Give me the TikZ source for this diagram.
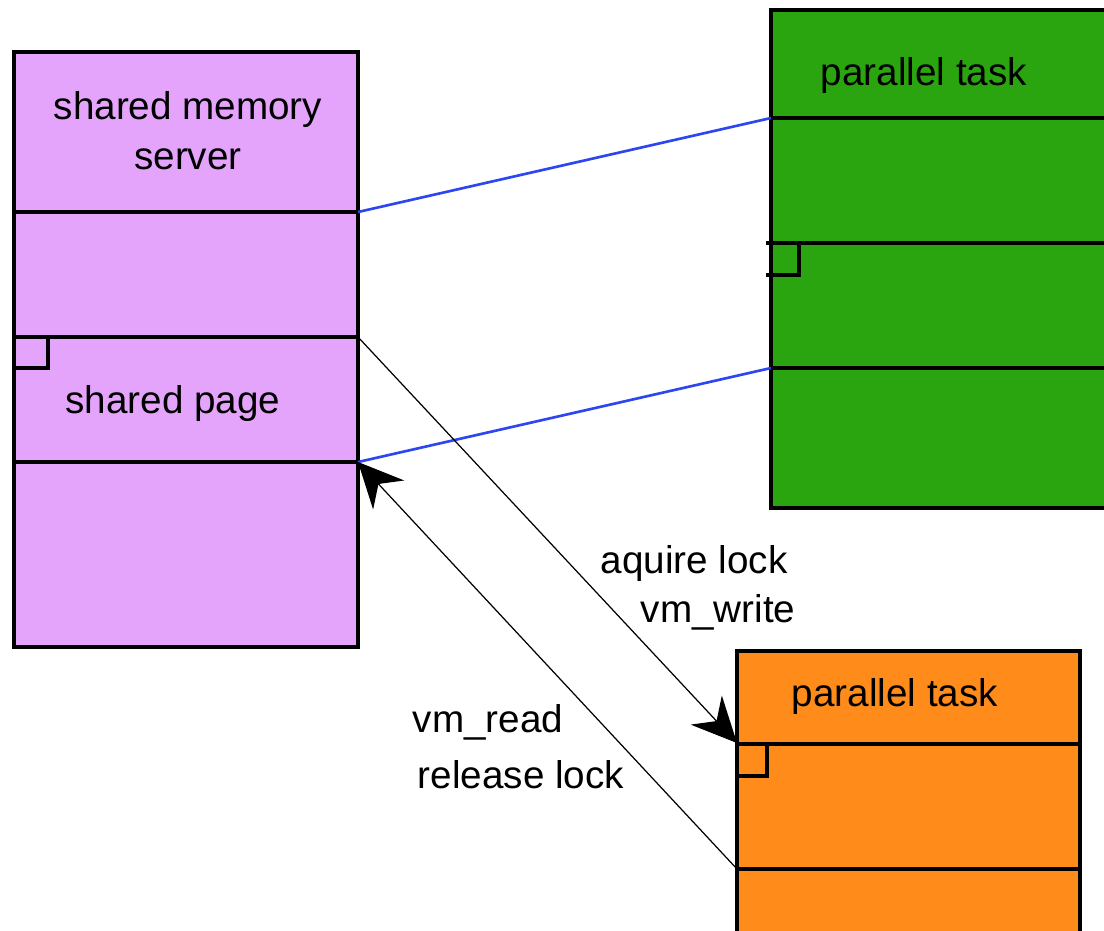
\documentclass[tikz,border=0pt]{standalone}
\usepackage{fontspec}
\setmainfont{Liberation Sans}
\usetikzlibrary{arrows.meta}

\definecolor{smsfill}{RGB}{228,164,252}
\definecolor{taskgreen}{RGB}{42,165,16}
\definecolor{taskorange}{RGB}{255,140,26}
\definecolor{linkblue}{RGB}{45,70,240}

\tikzset{
  box/.style={draw=black, line width=2.2pt},
  divider/.style={draw=black, line width=2pt},
  link/.style={draw=linkblue, line width=1.5pt},
  msg/.style={draw=black, line width=0.7pt, -{Stealth[length=0.9cm, width=0.85cm, inset=0.3cm]}},
  lbl/.style={font=\fontsize{22}{28.5}\selectfont, inner sep=0pt}
}

\begin{document}
\begin{tikzpicture}[x=0.02cm, y=-0.02cm]
% Set the picture size to the reference
\clip (0,0) rectangle (1104,930);
\fill[white] (0,0) rectangle (1104,930);

% shared memory server
\draw[box, fill=smsfill] (14,52) rectangle (358,647);
\draw[divider] (14,212) -- (358,212);
\draw[divider] (14,337) -- (358,337);
\draw[divider] (14,462) -- (358,462);
\draw[divider] (14,368) -| (48,337);
\node[lbl, align=center] (smstitle) at (188,131) {shared memory\\server};
\node[lbl, anchor=base] (smspage) at (173,413) {shared page};
\coordinate (smsA) at (358,212);
\coordinate (smsB) at (358,337);
\coordinate (smsC) at (358,462);

% parallel task (green)
\draw[box, fill=taskgreen] (771,10) rectangle (1120,508);
\draw[divider] (771,118) -- (1120,118);
\draw[divider] (766,243) -- (1120,243);
\draw[divider] (771,368) -- (1120,368);
\draw[divider] (766,275) -| (799,243);
\node[lbl, anchor=base] (greentitle) at (924,85) {parallel task};
\coordinate (greenA) at (771,118);
\coordinate (greenB) at (771,368);

% parallel task (orange)
\draw[box, fill=taskorange] (737,651) rectangle (1080,940);
\draw[divider] (737,744) -- (1080,744);
\draw[divider] (737,869) -- (1080,869);
\draw[divider] (737,776) -| (767,744);
\node[lbl, anchor=base] (orangetitle) at (895,706) {parallel task};
\coordinate (orangeA) at (737,743);
\coordinate (orangeB) at (737,869);

% mappings of the shared page
\draw[link] (smsA) -- (greenA);
\draw[link] (smsC) -- (greenB);

% messages
\draw[msg] (smsB) -- (orangeA);
\draw[msg] (orangeB) -- (smsC);
\node[lbl, anchor=base] (aquire) at (694,573) {aquire lock};
\node[lbl, anchor=base] (vmwrite) at (718,622) {vm\_write};
\node[lbl, anchor=base] (vmread) at (488,732) {vm\_read};
\node[lbl, anchor=base] (release) at (521,788) {release lock};
\end{tikzpicture}
\end{document}
